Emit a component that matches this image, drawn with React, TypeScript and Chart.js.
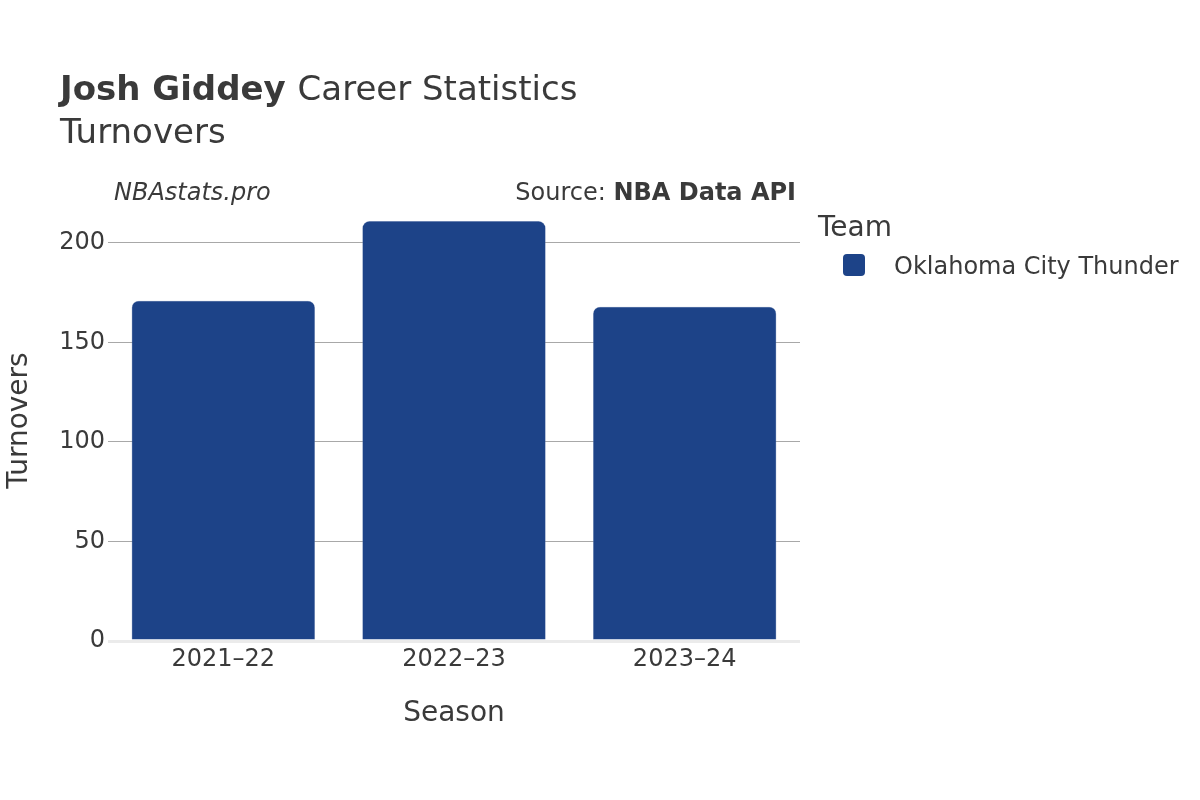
import React, { useEffect, useRef } from "react";
import { Chart, registerables } from "chart.js";

Chart.register(...registerables);

const seasons = ["2021–22", "2022–23", "2023–24"];
const turnovers = [171, 211, 168];
const yTicks = [0, 50, 100, 150, 200];
const teamName = "Oklahoma City Thunder";
const barColor = "#1d4388";
const FONT = "'DejaVu Sans', sans-serif";
const TEXT = "#3a3a3a";

const overlay = {
  id: "overlay",
  afterDraw(chart: any) {
    const ctx = chart.ctx as CanvasRenderingContext2D;
    const area = chart.chartArea;
    ctx.save();
    ctx.fillStyle = TEXT;
    ctx.textBaseline = "alphabetic";
    ctx.textAlign = "left";
    // Title
    ctx.font = `bold 34px ${FONT}`;
    const bold = "Josh Giddey";
    ctx.fillText(bold, 60, 100);
    const w = ctx.measureText(bold + " ").width;
    ctx.font = `34px ${FONT}`;
    ctx.fillText("Career Statistics", 60 + w, 100);
    ctx.fillText("Turnovers", 60, 143);
    // annotations
    ctx.font = `italic 24px ${FONT}`;
    ctx.fillText("NBAstats.pro", 114, 200);
    ctx.textAlign = "right";
    ctx.font = `bold 24px ${FONT}`;
    const b2 = "NBA Data API";
    ctx.fillText(b2, 796, 200);
    const bw = ctx.measureText(b2).width;
    ctx.font = `24px ${FONT}`;
    ctx.fillText("Source: ", 796 - bw, 200);
    // axis titles
    ctx.textAlign = "center";
    ctx.font = `28px ${FONT}`;
    ctx.fillText("Season", (area.left + area.right) / 2, 721);
    ctx.save();
    ctx.translate(27, (area.top + area.bottom) / 2);
    ctx.rotate(-Math.PI / 2);
    ctx.fillText("Turnovers", 0, 0);
    ctx.restore();
    // legend
    ctx.textAlign = "left";
    ctx.font = `28px ${FONT}`;
    ctx.fillText("Team", 818, 236);
    ctx.fillStyle = barColor;
    ctx.beginPath();
    (ctx as any).roundRect(843, 254, 22, 22, 4);
    ctx.fill();
    ctx.fillStyle = TEXT;
    ctx.font = `24px ${FONT}`;
    ctx.fillText(teamName, 894, 274);
    ctx.restore();
  },
};

export default function App() {
  const ref = useRef<HTMLCanvasElement>(null);
  useEffect(() => {
    if (!ref.current) return;
    const chart = new Chart(ref.current, {
      type: "bar",
      data: {
        labels: seasons,
        datasets: [
          {
            label: teamName,
            data: turnovers,
            backgroundColor: barColor,
            borderColor: "#6f86b3",
            borderWidth: 0.5,
            borderSkipped: "bottom",
            borderRadius: { topLeft: 7, topRight: 7, bottomLeft: 0, bottomRight: 0 },
            categoryPercentage: 1,
            barPercentage: 0.795,
          },
        ],
      },
      options: {
        responsive: false,
        animation: false,
        layout: { padding: { left: 8, right: 400, top: 200, bottom: 0 } },
        plugins: { legend: { display: false }, tooltip: { enabled: false }, title: { display: false } },
        scales: {
          x: {
            grid: { display: false, drawTicks: false },
            border: { display: false },
            ticks: { color: TEXT, font: { family: FONT, size: 24 }, padding: 4, maxRotation: 0 },
            afterFit: (s: any) => { s.height = 159; },
          },
          y: {
            min: 0,
            max: 221.6,
            border: { display: false },
            grid: {
              drawTicks: false,
              color: (c: any) => (c.tick && c.tick.value === 0 ? "#ebebeb" : "#a8a8a8"),
              lineWidth: (c: any) => (c.tick && c.tick.value === 0 ? 3 : 1),
            },
            ticks: { color: TEXT, font: { family: FONT, size: 24 }, padding: 3, stepSize: 50 },
            afterBuildTicks: (s: any) => { s.ticks = yTicks.map((v) => ({ value: v })); },
            afterFit: (s: any) => { s.width = 100; },
          },
        },
      },
      plugins: [overlay],
    });
    return () => chart.destroy();
  }, []);
  return (
    <div style={{ position: "absolute", left: 0, top: 0, width: 1200, height: 800, background: "#fff" }}>
      <canvas ref={ref} width={1200} height={800} style={{ width: 1200, height: 800 }} />
    </div>
  );
}
